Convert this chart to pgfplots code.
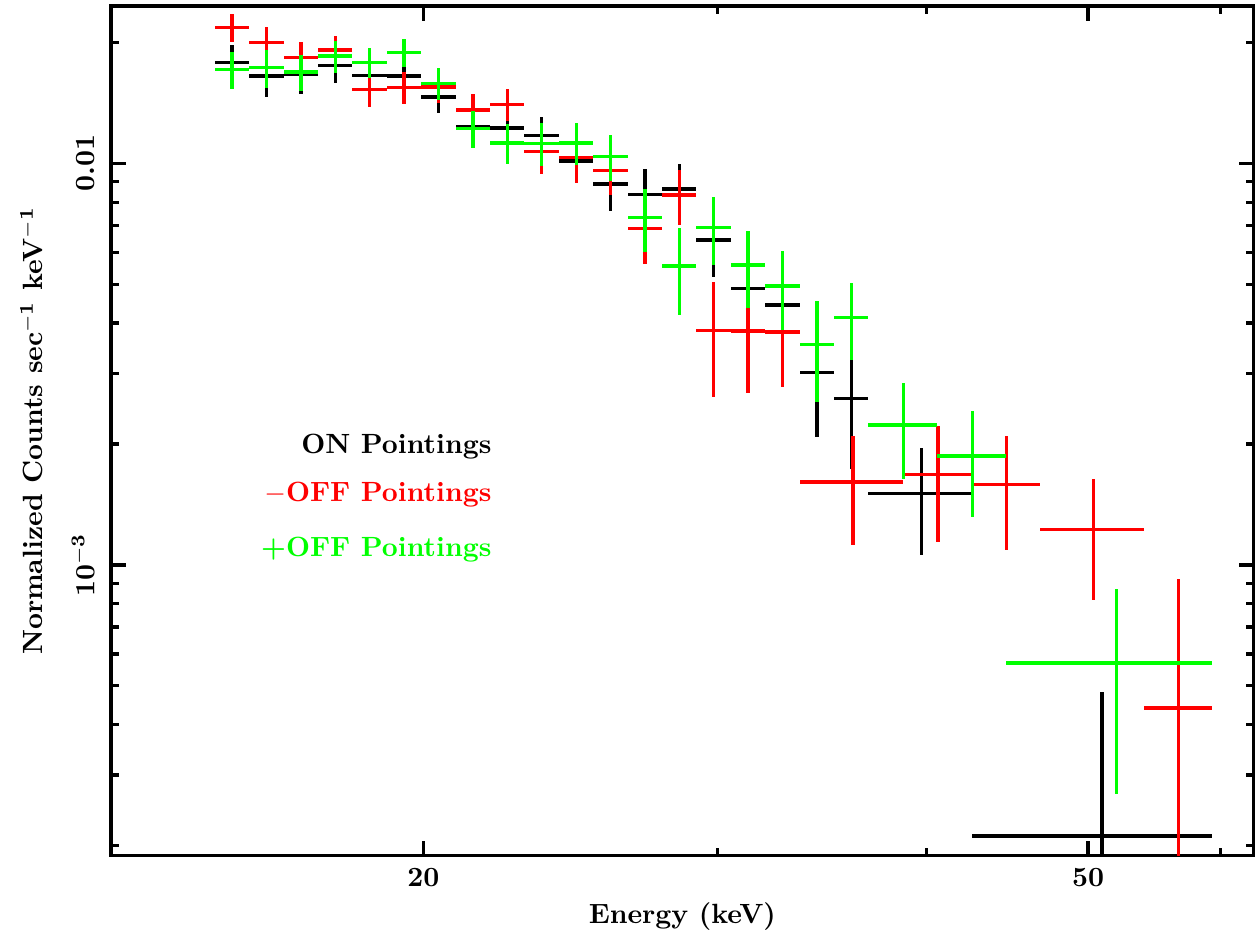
\documentclass[border=0pt]{standalone}
\usepackage{pgfplots}
\pgfplotsset{compat=1.18}
\usepackage{pgfplotstable}
\newcommand{\lf}{\fontsize{10}{12}\selectfont\bfseries}

% x = bin centre (keV), xe = half bin width, y = counts, yp/ym = errors
\pgfplotstableread{
x      xe    y          yp       ym
15.364 0.364 0.017836   0.00187  0.00187
16.111 0.382 0.016493   0.00185  0.00185
16.893 0.401 0.016683   0.0018   0.0018
17.714 0.420 0.017496   0.0016   0.0016
18.574 0.440 0.016559   0.0016   0.0016
19.476 0.462 0.016493   0.0016   0.0016
20.422 0.484 0.014639   0.00133  0.00133
21.414 0.508 0.012328   0.0012   0.0012
22.454 0.533 0.012258   0.0012   0.0012
23.545 0.559 0.011722   0.00133  0.00133
24.688 0.585 0.010144   0.0012   0.0012
25.887 0.614 0.0088754  0.00127  0.00127
27.145 0.644 0.0083656  0.00131  0.00131
28.463 0.675 0.0086386  0.0013   0.0013
29.845 0.708 0.0064493  0.00123  0.00123
31.294 0.742 0.0048803  0.0010   0.0010
32.814 0.778 0.0044423  0.0009   0.0009
34.408 0.816 0.0030196  0.00094  0.00094
36.080 0.856 0.0025941  0.00086  0.00086
39.759 2.824 0.0015063  0.00045  0.00045
50.965 8.383 0.00021117 0.00027  0.00011
}\onpts

\pgfplotstableread{
x      xe    y          yp       ym
15.364 0.364 0.021809   0.00172  0.00172
16.111 0.382 0.020006   0.0018   0.0018
16.893 0.401 0.018354   0.00165  0.00165
17.714 0.420 0.019138   0.0016   0.0016
18.574 0.440 0.015277   0.00149  0.00149
19.476 0.462 0.015453   0.0014   0.0014
20.422 0.484 0.015506   0.0014   0.0014
21.414 0.508 0.013565   0.00128  0.00128
22.454 0.533 0.014018   0.00126  0.00126
23.545 0.559 0.010694   0.00128  0.00128
24.688 0.585 0.010344   0.00143  0.00143
25.887 0.614 0.0096011  0.00127  0.00127
27.145 0.644 0.0068691  0.00126  0.00126
28.463 0.675 0.0083327  0.0013   0.0013
29.845 0.708 0.0038421  0.00123  0.00123
31.294 0.742 0.0038267  0.00114  0.00114
32.814 0.778 0.0038048  0.00103  0.00103
36.160 2.568 0.0016096  0.00049  0.00049
40.655 1.927 0.0016797  0.00054  0.00054
44.700 2.118 0.0015885  0.0005   0.0005
50.397 3.579 0.0012271  0.00041  0.00041
56.662 2.686 0.00043984 0.00048  0.00034
}\offminus

\pgfplotstableread{
x      xe    y          yp       ym
15.364 0.364 0.017138   0.00184  0.00184
16.111 0.382 0.017296   0.0019   0.0019
16.893 0.401 0.016875   0.00177  0.00177
17.714 0.420 0.018493   0.0017   0.0017
18.574 0.440 0.017836   0.00156  0.00156
19.476 0.462 0.018855   0.0015   0.0015
20.422 0.484 0.015812   0.00142  0.00142
21.414 0.508 0.012216   0.00132  0.00132
22.454 0.533 0.011228   0.00129  0.00129
23.545 0.559 0.011209   0.00136  0.00136
24.688 0.585 0.011228   0.00134  0.00134
25.887 0.614 0.010404   0.00135  0.00135
27.145 0.644 0.0073336  0.00132  0.00132
28.463 0.675 0.0055463  0.00135  0.00135
29.845 0.708 0.0069244  0.00133  0.00133
31.294 0.742 0.0055782  0.00121  0.00121
32.814 0.778 0.0049451  0.0011   0.0011
34.408 0.816 0.0035387  0.0010   0.0010
36.080 0.856 0.0041388  0.0009   0.0009
38.772 1.837 0.0022321  0.0006   0.0006
42.630 2.021 0.0018656  0.00055  0.00055
51.999 7.349 0.00056947 0.0003   0.0003
}\offplus

\begin{document}
\begin{tikzpicture}
\begin{axis}[
  scale only axis, width=410.9pt, height=305.5pt,
  xmode=log, ymode=log,
  xmin=13.0, xmax=62.83, ymin=0.0001887, ymax=0.024634,
  xtick={20,50}, xticklabels={20,50},
  minor xtick={30,40,60},
  ytick={0.001,0.01}, yticklabels={$\mathbf{10^{-3}}$,0.01},
  minor ytick={0.0002,0.0003,0.0004,0.0005,0.0006,0.0007,0.0008,0.0009,
    0.002,0.003,0.004,0.005,0.006,0.007,0.008,0.009,0.02},
  axis line style={line width=1.2pt},
  tick style={black, line width=1.2pt},
  major tick length=5.4pt, minor tick length=2.9pt,
  tick align=inside,
  ticklabel style={font=\lf},
  yticklabel style={rotate=90, anchor=south, inner ysep=5.75pt},
  xticklabel style={inner ysep=4.3pt},
  xlabel style={at={(axis description cs:0.5,-0.0802)}, anchor=base, font=\lf},
  ylabel style={at={(axis description cs:-0.0596,0.5)}, anchor=base, font=\lf},
  xlabel={Energy (keV)},
  ylabel={Normalized Counts sec$^{\mathbf{-1}}$ keV$^{\mathbf{-1}}$},
]
\addplot[draw=none, mark=none, error bars/.cd, x dir=both, x explicit,
  y dir=both, y explicit, error mark=none,
  error bar style={black, line width=1.2pt}]
  table[x=x, y=y, x error=xe, y error plus=yp, y error minus=ym] {\onpts};
\addplot[draw=none, mark=none, error bars/.cd, x dir=both, x explicit,
  y dir=both, y explicit, error mark=none,
  error bar style={red, line width=1.2pt}]
  table[x=x, y=y, x error=xe, y error plus=yp, y error minus=ym] {\offminus};
\addplot[draw=none, mark=none, error bars/.cd, x dir=both, x explicit,
  y dir=both, y explicit, error mark=none,
  error bar style={green, line width=1.2pt}]
  table[x=x, y=y, x error=xe, y error plus=yp, y error minus=ym] {\offplus};

\node[anchor=base east, inner sep=0pt, text=black, font=\lf]
  at (rel axis cs:0.3334,0.4735) {ON Pointings};
\node[anchor=base east, inner sep=0pt, text=red, font=\lf]
  at (rel axis cs:0.3334,0.4165) {$\mathbf{-}$OFF Pointings};
\node[anchor=base east, inner sep=0pt, text=green, font=\lf]
  at (rel axis cs:0.3334,0.3526) {+OFF Pointings};
\end{axis}
\path (current axis.south west) ++(-39.9pt,-28.9pt) coordinate (bl);
\path (current axis.north east) ++(1.2pt,2.2pt) coordinate (tr);
\path (bl) rectangle (tr);
\end{tikzpicture}
\end{document}
